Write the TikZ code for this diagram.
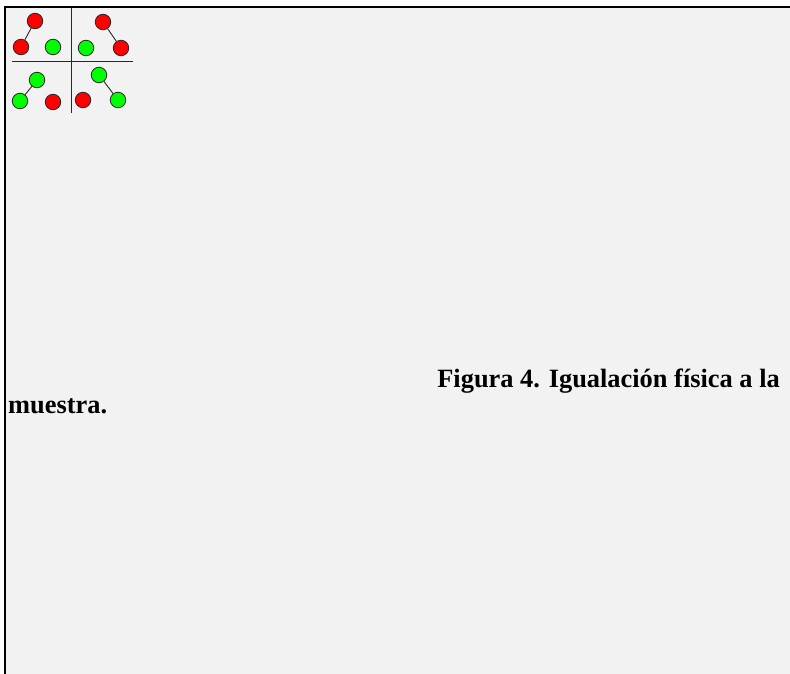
\documentclass[tikz,border=0pt]{standalone}
\usepackage{fontspec}
\setmainfont{Liberation Serif}
\definecolor{panelgray}{RGB}{242,242,242}
\definecolor{dotred}{RGB}{255,0,0}
\definecolor{dotgreen}{RGB}{0,255,0}
\definecolor{edgegray}{RGB}{40,40,40}
\begin{document}
\begin{tikzpicture}[
    x=1pt,y=-1pt,
    dot/.style={circle,draw=edgegray,line width=0.8pt,minimum size=15.5pt,inner sep=0pt},
    reddot/.style={dot,fill=dotred},
    greendot/.style={dot,fill=dotgreen},
    link/.style={draw=edgegray,line width=0.9pt},
    divider/.style={draw=edgegray,line width=1pt},
    caption/.style={font=\fontsize{26.4}{30}\selectfont\bfseries,inner sep=0pt}
  ]
    \useasboundingbox (0,0) rectangle (790,674);
    \fill[white] (-5,-5) rectangle (800,684);
    \fill[panelgray] (5,7) rectangle (800,684);
    \draw[line width=2.5pt] (4,7) -- (800,7);
    \draw[line width=2pt] (5,6) -- (5,684);
    % quadrant dividers
    \draw[divider] (12,62) -- (133,62);
    \draw[divider] (71,8) -- (71,113);
    % top left
    \node[reddot] (tlroot) at (35,21) {};
    \node[reddot] (tlleft) at (21,47) {};
    \node[greendot] (tlright) at (53,47) {};
    \draw[link] (tlroot) -- (tlleft);
    % top right
    \node[reddot] (trroot) at (103,22) {};
    \node[greendot] (trleft) at (86,48) {};
    \node[reddot] (trright) at (121,48) {};
    \draw[link] (trroot) -- (trright);
    % bottom left
    \node[greendot] (blroot) at (37,80) {};
    \node[greendot] (blleft) at (20,101) {};
    \node[reddot] (blright) at (53,102) {};
    \draw[link] (blroot) -- (blleft);
    % bottom right
    \node[greendot] (brroot) at (99,75) {};
    \node[reddot] (brleft) at (83,100) {};
    \node[greendot] (brright) at (118,100) {};
    \draw[link] (brroot) -- (brright);
    % caption
    \node[caption,anchor=base east] (capfirst) at (780,387) {Figura 4. Igualación física a la};
    \node[caption,anchor=base west] (capsecond) at (8,413) {muestra.};
  \end{tikzpicture}
\end{document}
